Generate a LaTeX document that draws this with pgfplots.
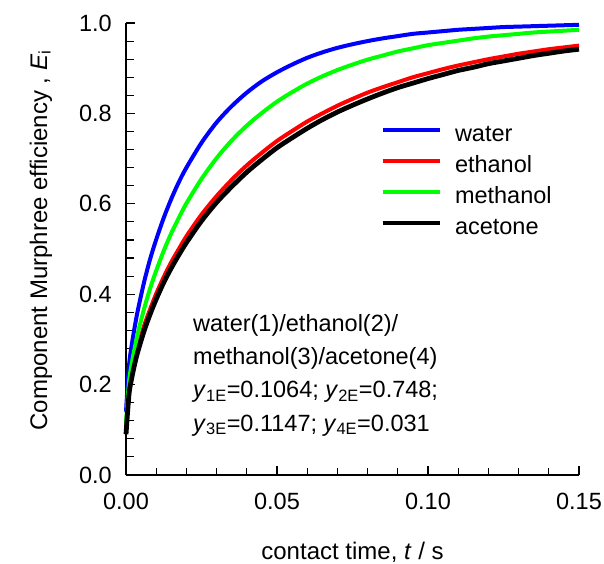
\documentclass[border=0pt]{standalone}
\usepackage{fontspec}
\setmainfont{Liberation Sans}
\usepackage{pgfplots}
\usepackage{pgfplotstable}
\pgfplotsset{compat=1.18}

% E_i against contact time
\pgfplotstableread{
t       water  ethanol methanol acetone
0       0.140  0.100   0.115    0.090
0.001   0.242  0.188   0.206    0.179
0.002   0.292  0.227   0.250    0.218
0.003   0.332  0.258   0.285    0.249
0.004   0.367  0.285   0.316    0.275
0.006   0.427  0.330   0.368    0.319
0.008   0.478  0.367   0.413    0.356
0.010   0.521  0.401   0.452    0.389
0.0125  0.569  0.438   0.496    0.426
0.015   0.611  0.471   0.535    0.458
0.0175  0.648  0.500   0.569    0.487
0.020   0.680  0.528   0.601    0.514
0.025   0.735  0.576   0.655    0.562
0.030   0.780  0.617   0.701    0.603
0.035   0.816  0.653   0.740    0.638
0.040   0.846  0.685   0.773    0.670
0.045   0.871  0.713   0.801    0.698
0.050   0.891  0.739   0.826    0.724
0.055   0.908  0.761   0.847    0.746
0.060   0.923  0.782   0.866    0.767
0.065   0.935  0.800   0.882    0.786
0.070   0.945  0.817   0.896    0.803
0.075   0.953  0.832   0.908    0.818
0.080   0.960  0.846   0.919    0.832
0.085   0.966  0.858   0.928    0.845
0.090   0.971  0.869   0.937    0.857
0.095   0.976  0.880   0.944    0.867
0.100   0.979  0.889   0.951    0.877
0.105   0.982  0.898   0.956    0.886
0.110   0.985  0.906   0.961    0.895
0.115   0.987  0.913   0.966    0.902
0.120   0.989  0.920   0.970    0.910
0.125   0.991  0.926   0.973    0.916
0.130   0.992  0.932   0.976    0.922
0.135   0.993  0.937   0.979    0.928
0.140   0.994  0.942   0.981    0.933
0.145   0.995  0.946   0.983    0.938
0.150   0.996  0.950   0.985    0.942
}\effdata

\newcommand{\bigf}{\fontsize{23.5}{28}\selectfont}

\begin{document}
\begin{tikzpicture}
\useasboundingbox (0,0) rectangle (604pt,563pt);
\begin{axis}[
  at={(126pt,88pt)}, anchor=south west,
  scale only axis, width=453pt, height=452pt,
  xmin=0, xmax=0.15, ymin=0, ymax=1.0,
  axis x line*=bottom, axis y line*=left,
  axis line style={line width=1.2pt},
  xtick={0,0.05,0.10,0.15},
  xticklabels={0.00,0.05,0.10,0.15},
  ytick={0,0.2,0.4,0.6,0.8,1.0},
  yticklabels={0.0,0.2,0.4,0.6,0.8,1.0},
  minor x tick num=4, minor y tick num=4,
  xtick pos=bottom, ytick pos=left,
  tick align=inside,
  major tick length=9pt, minor tick length=7.5pt,
  every tick/.style={black, line width=1.1pt},
  /pgf/number format/assume math mode=true,
  ticklabel style={font=\bigf},
  yticklabel style={inner sep=0pt, xshift=-14pt},
  xticklabel style={inner sep=0pt, yshift=-17.5pt},
  xlabel={contact time, \textit{t} / s},
  ylabel={Component Murphree efficiency , \textit{E}\textsubscript{i}},
  label style={font=\fontsize{24}{28}\selectfont},
  xlabel style={at={(axis description cs:0.5,-0.186)}, anchor=base},
  ylabel style={at={(axis description cs:-0.1744,0.519)}, anchor=base},
  legend cell align=left,
  legend style={draw=none, fill=none, font=\bigf,
    at={(axis description cs:0.5607,0.775)}, anchor=north west,
    inner sep=0pt, row sep=9pt, column sep=0pt,
    nodes={inner sep=0pt, text height=17pt, text depth=5pt}},
  legend image code/.code={\draw[#1] (0pt,6pt) -- (57pt,6pt);
    \path (70pt,6pt);},
  clip=false,
]
\addplot[blue, line width=4pt, smooth] table[x=t, y=water] {\effdata};
\addplot[red, line width=4pt, smooth] table[x=t, y=ethanol] {\effdata};
\addplot[green, line width=4pt, smooth] table[x=t, y=methanol] {\effdata};
\addplot[black, line width=4.8pt, smooth] table[x=t, y=acetone] {\effdata};
\legend{water, ethanol, methanol, acetone}

\node[anchor=base west, font=\bigf, inner sep=0pt] at (axis description cs:0.1479,0.3164) {water(1)/ethanol(2)/};
\node[anchor=base west, font=\bigf, inner sep=0pt] at (axis description cs:0.1479,0.2434) {methanol(3)/acetone(4)};
\node[anchor=base west, font=\bigf, inner sep=0pt] at (axis description cs:0.1479,0.1704) {\textit{y}\textsubscript{1E}=0.1064; \textit{y}\textsubscript{2E}=0.748;};
\node[anchor=base west, font=\bigf, inner sep=0pt] at (axis description cs:0.1479,0.0973) {\textit{y}\textsubscript{3E}=0.1147; \textit{y}\textsubscript{4E}=0.031};
\end{axis}
\end{tikzpicture}
\end{document}
